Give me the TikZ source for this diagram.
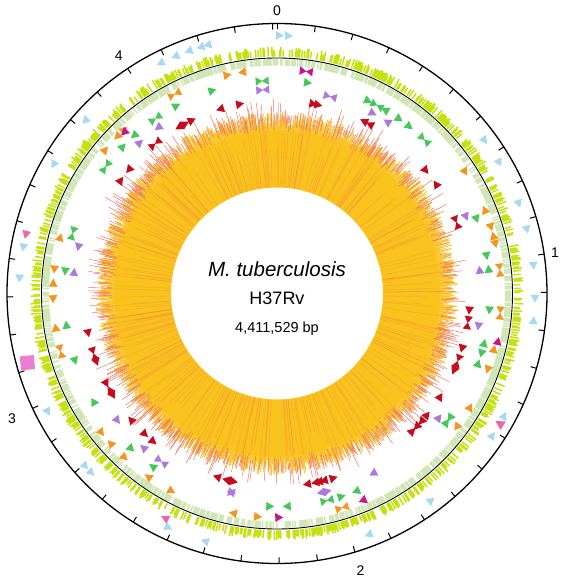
\documentclass[tikz,border=0pt]{standalone}
\usepackage{fontspec}
\setmainfont{Liberation Sans}
\definecolor{trnac}{RGB}{165,218,242}
\definecolor{rrnac}{RGB}{240,100,160}
\definecolor{drc}{RGB}{235,125,210}
\definecolor{cdsa}{RGB}{195,225,10}
\definecolor{cdsb}{RGB}{208,230,180}
\definecolor{isc}{RGB}{247,148,30}
\definecolor{repc}{RGB}{200,20,140}
\definecolor{ppec}{RGB}{70,200,90}
\definecolor{pec}{RGB}{175,120,225}
\definecolor{pgrsc}{RGB}{200,10,30}
\definecolor{histy}{RGB}{249,194,28}
\definecolor{histr}{RGB}{242,108,88}
\newcommand\cw[3]{\fill[#3,shift={({90-#1}:#2)},rotate={-#1}] (4.3,0)--(-3.7,4.4)--(-3.7,-4.4)--cycle;}
\newcommand\ccw[3]{\fill[#3,shift={({90-#1}:#2)},rotate={180-#1}] (4.3,0)--(-3.7,4.4)--(-3.7,-4.4)--cycle;}
\newcommand\bt[3]{\fill[#3,shift={({90-#1}:#2)},rotate={-#1}] (0.3,0)--(-6.5,4.2)--(-6.5,-4.2)--cycle (-0.3,0)--(6.5,4.2)--(6.5,-4.2)--cycle;}
\def\rR{258}\def\rIS{224}\def\rPPE{213}\def\rPE{204}\def\rPG{193}
\begin{document}
\begin{tikzpicture}[x=1pt,y=1pt,
  lab/.style={font=\fontsize{14}{14}\selectfont,inner sep=0pt},
  tickline/.style={line width=1pt,black},
  ring/.style={line width=1.3pt,black}]
\useasboundingbox (-277,-289.5) rectangle (283,293.5);
\fill[white] (-277,-289.5) rectangle (283,293.5);
\pgfmathsetseed{7}
% ---- GC histogram
\fill[histy,even odd rule] (0,0) circle (163) (0,0) circle (106);
\foreach \i in {0,...,1439}{
  \pgfmathsetmacro\a{90-\i*0.25}
  \pgfmathsetmacro\ry{166+16*rnd}
  \draw[histy,line width=0.8pt] (\a:155) -- (\a:\ry);
}
\foreach \i in {0,...,299}{
  \pgfmathsetmacro\a{360*rnd}
  \pgfmathsetmacro\re{140+40*rnd}
  \draw[histr,opacity=0.35,line width=0.35pt] (\a:107) -- (\a:\re);
}
\foreach \i in {0,...,1199}{
  \pgfmathsetmacro\a{90-\i*0.3-0.3*rnd}
  \pgfmathtruncatemacro\f{100*rnd}
  \ifnum\f>48
    \pgfmathsetmacro\rs{162+10*rnd}
    \pgfmathsetmacro\re{176+22*rnd*rnd}
    \draw[histr,line width=0.45pt] (\a:\rs) -- (\a:\re);
  \fi
}
% ---- coding sequences
\foreach \i in {0,...,1199}{
  \pgfmathsetmacro\a{90-\i*0.3}
  \pgfmathtruncatemacro\f{100*rnd}
  \ifnum\f>40
    \pgfmathsetmacro\re{243+4*rnd}
    \draw[cdsa,line width=1.5pt] (\a:237) -- (\a:\re);
  \fi
  \pgfmathtruncatemacro\g{100*rnd}
  \ifnum\g>28
    \draw[cdsb,line width=1.5pt] (\a:228) -- (\a:234.5);
  \fi
}
\draw[line width=0.9pt] (0,0) circle (235.5);
% ---- scale
\draw[ring] (0,0) circle (270);
\foreach \k in {0,...,44}{
  \pgfmathsetmacro\a{90-\k*8.16044}
  \draw[tickline] (\a:270) -- (\a:264);
}
\node[lab] (l0) at (90:283) {0};
\node[lab] (l1) at ({90-81.6}:281) {1};
\node[lab] (l2) at ({90-163.2}:289) {2};
\node[lab] (l3) at ({90-244.8}:293) {3};
\node[lab] (l4) at ({90-326.4}:286) {4};
% ---- stable RNA
\foreach \t in {0.6,2.6,53.6,59.5,69.6,75.6,83.8,91.1,159.2,196.2}{\cw{\t}{\rR}{trnac}}
\foreach \t in {340,342.8,344.4,333.2,336.8,96,118.3,123.4,143.3,204.9,226,228,242.7,273.4,280.3,300,312}{\ccw{\t}{\rR}{trnac}}
\fill[rrnac,shift={({90-120.3}:\rR)},rotate={-120.3}] (0,-5)--(5,4)--(-5,4)--cycle;
\ccw{283.2}{\rR}{rrnac}
\cw{206.5}{251}{rrnac}
\fill[drc,shift={({90-254.5}:259)},rotate={-254.5-10}] (-7,-7) rectangle (7,7);
% ---- IS elements
\foreach \t in {347.2,317,309.9,284.5,272.7,261.2,228,215.1,191.3,126.6,109.8,77.2,72.7,57.1}{\cw{\t}{\rIS}{isc}}
\foreach \t in {351.1,314.5,276.2,268.6,231.6,222.9,208.1,184.9,120.5,104.4,75.1,68.1}{\ccw{\t}{\rIS}{isc}}
\foreach \t in {332.8,255,163.1,95,84}{\bt{\t}{\rIS}{isc}}
\bt{7.5}{\rIS}{repc}
\ccw{102.2}{226}{repc}
\cw{157.5}{\rIS}{repc}
\ccw{179.5}{\rIS}{repc}
\ccw{316.5}{222}{repc}
% ---- PPE
\foreach \t in {342.3,8.3,25.3,35,38.4,69.5,79.8,94.5,106.3,125.7,158.2,177.3,215.7,239.5,261.5,313.6,331.8}{\cw{\t}{\rPPE}{ppec}}
\foreach \t in {30.5,83.4,103.5,109.2,127.3,162.4,181.9,223.2,251.6,276,317.9}{\ccw{\t}{\rPPE}{ppec}}
\foreach \t in {356,28,43.8,166.4,286.4,306.5,325.2}{\bt{\t}{\rPPE}{ppec}}
% ---- PE
\foreach \t in {28,67.9,99.2,151.9,167.5,193,220.9,276,317.7}{\cw{\t}{\rPE}{pec}}
\foreach \t in {32.7,83.4,127.5,165.7,192.8,231.5,283.2,324.4}{\ccw{\t}{\rPE}{pec}}
\foreach \t in {356,15.1,214.5}{\bt{\t}{\rPE}{pec}}
% ---- PGRS
\foreach \t in {348.9,10.8,12.3,50.4,95,106.5,113.5,131.5,133.6,165.9,167.4,168.5,171,195.2,198.1,229.1,240,305.9,331.6,333.8}{\cw{\t}{\rPG}{pgrsc}}
\foreach \t in {342.9,26.8,28.8,55.5,122.3,129,135.5,163,193.1,193,219.9,223.2,238.2,242.2,249.3,258.2,309.9,329.5}{\ccw{\t}{\rPG}{pgrsc}}
\foreach \t in {68.4,98.7,110.5,251.8,320.9}{\bt{\t}{\rPG}{pgrsc}}
% ---- centre
\node[font=\fontsize{20.5}{20.5}\selectfont\itshape] (sp) at (0,24.5) {M. tuberculosis};
\node[font=\fontsize{18}{18}\selectfont] (st) at (0,-4.5) {H37Rv};
\node[font=\fontsize{14.5}{14.5}\selectfont] (bp) at (0,-35.5) {4,411,529 bp};
\end{tikzpicture}
\end{document}
